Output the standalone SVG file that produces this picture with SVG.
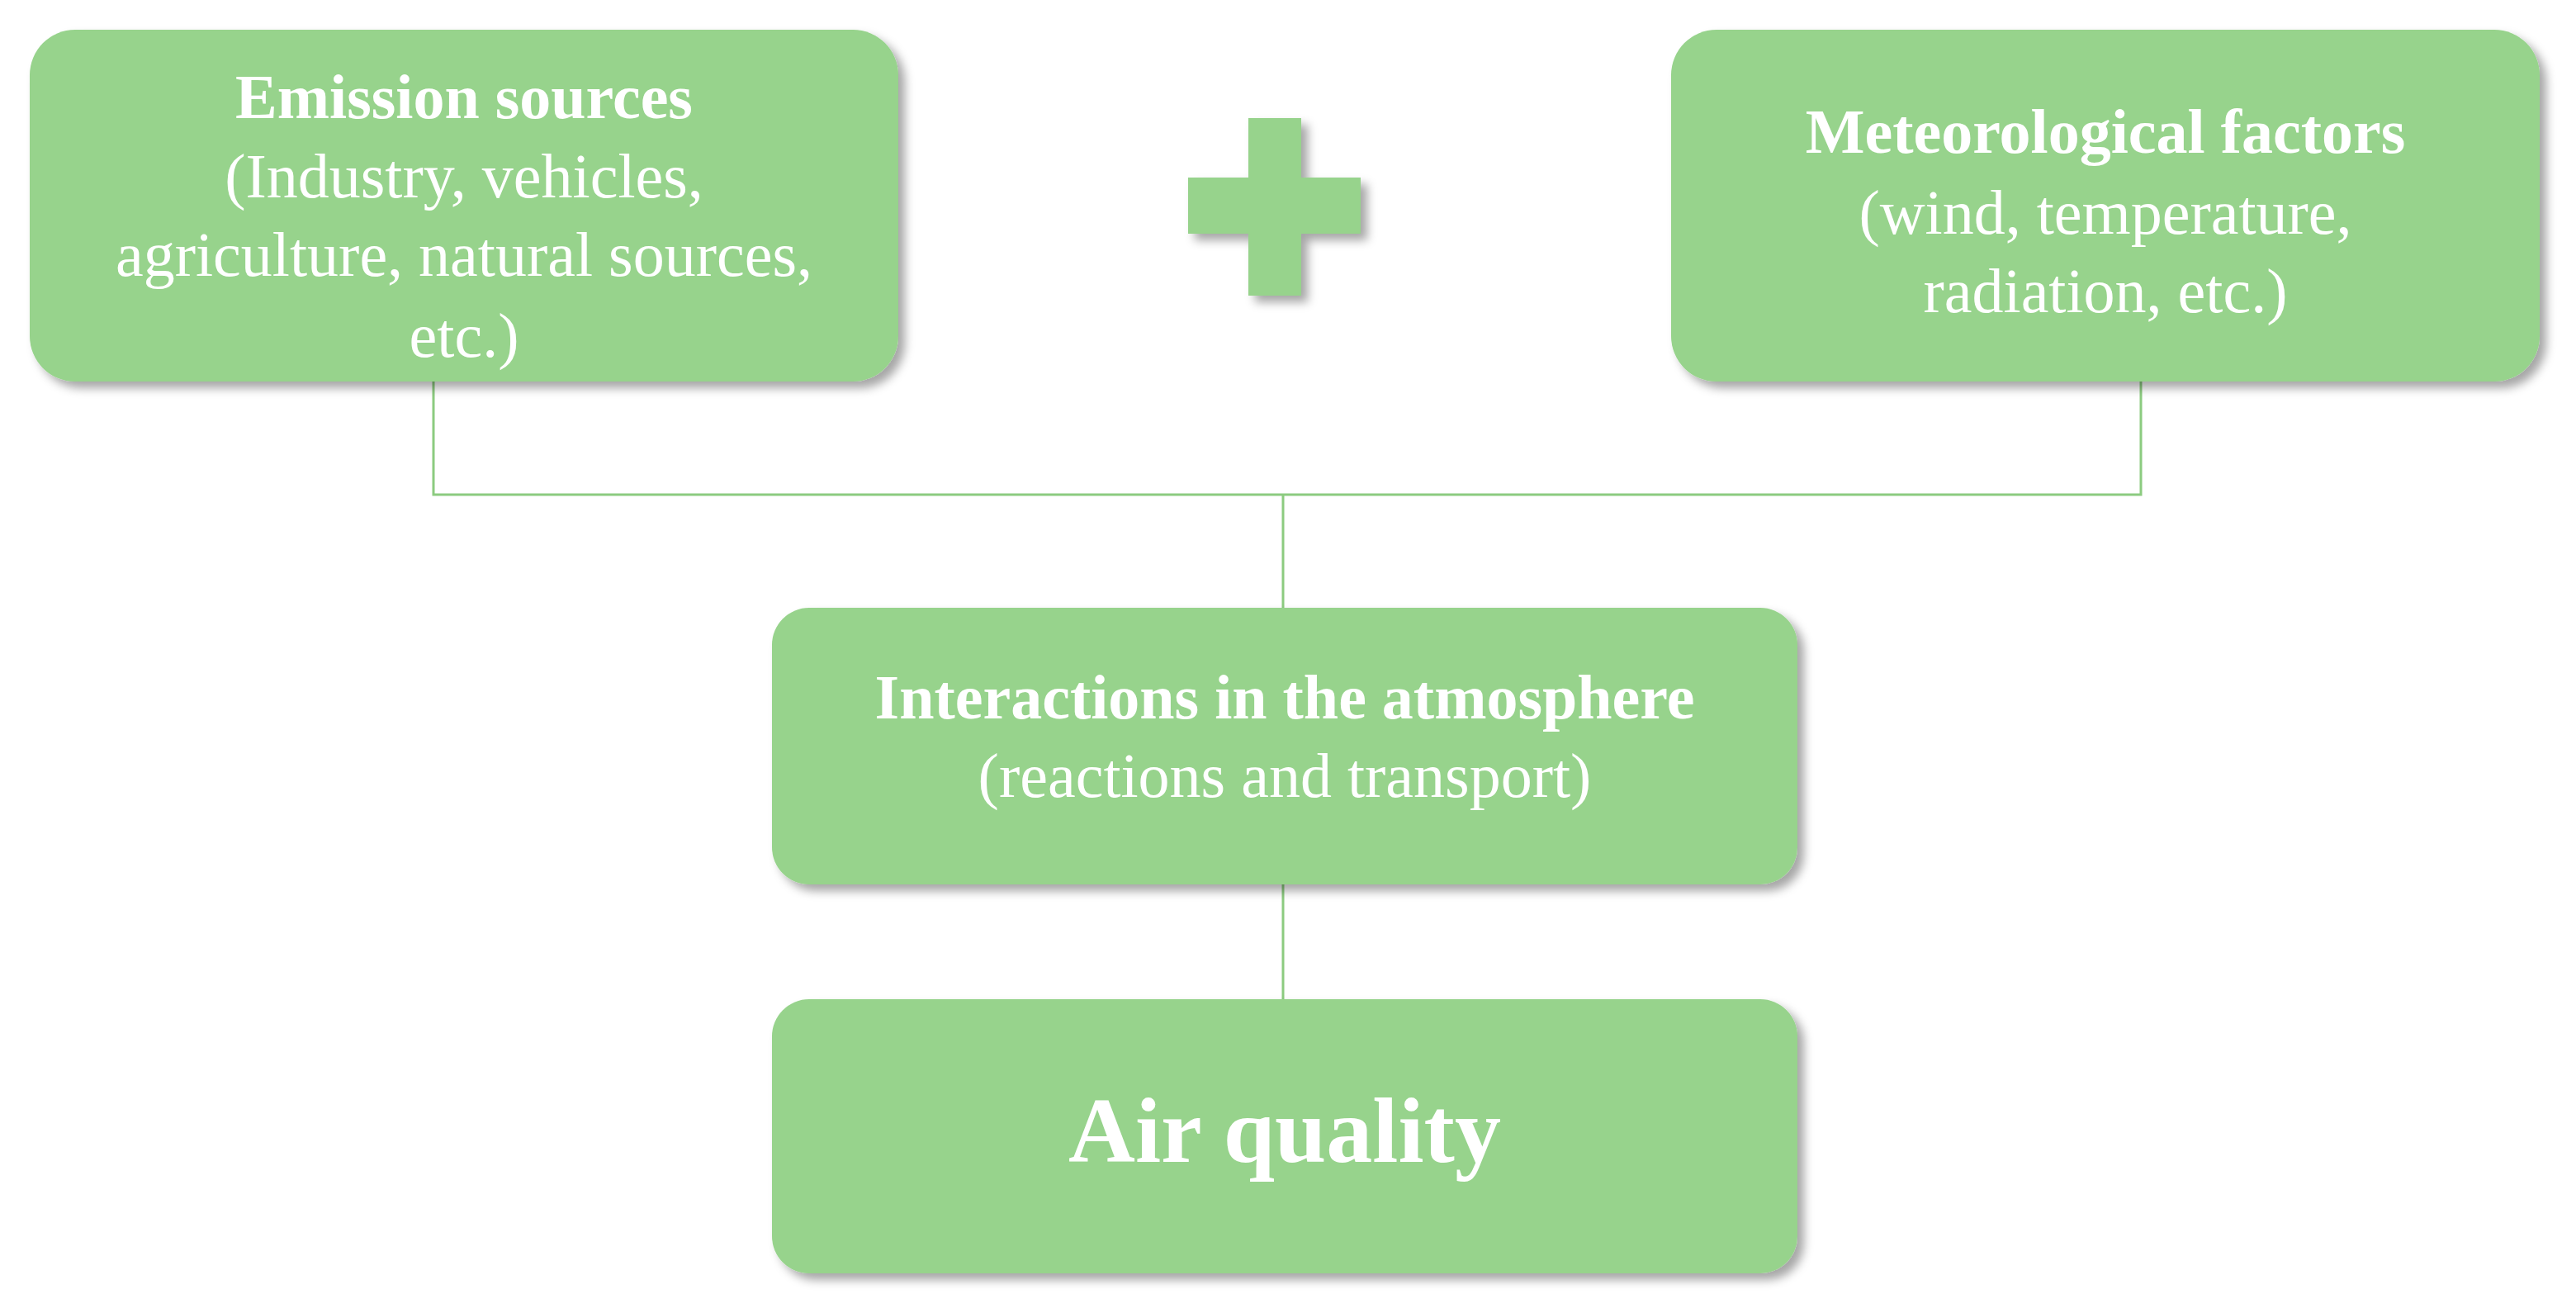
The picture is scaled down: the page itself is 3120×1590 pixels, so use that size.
<svg xmlns="http://www.w3.org/2000/svg" width="3120" height="1590" viewBox="0 0 3120 1590">
<defs>
<filter id="sh" x="-10%" y="-10%" width="130%" height="130%"><feDropShadow dx="8" dy="8" stdDeviation="6" flood-color="#000" flood-opacity="0.35"/></filter>
<style>
.box{fill:#97D38C;filter:url(#sh)}
.t{font-family:"Liberation Serif",serif;fill:#fff;font-size:76px;text-anchor:middle}
.b{font-weight:bold}
.c{stroke:#8CCB80;stroke-width:3;fill:none}
</style>
</defs>
<rect width="3120" height="1590" fill="#fff"/>
<g id="connectors">
<path class="c" d="M525 462V599H2593V462M1554 599V736M1554 1071V1210"/>
</g>
<g id="emission">
<rect class="box" x="36" y="36" width="1052" height="426" rx="55"/>
<text class="t b" x="562" y="143">Emission sources</text>
<text class="t" x="562" y="239">(Industry, vehicles,</text>
<text class="t" x="562" y="334">agriculture, natural sources,</text>
<text class="t" x="562" y="432">etc.)</text>
</g>
<g id="plus" filter="url(#sh)" fill="#97D38C">
<rect x="1512" y="143" width="64" height="215"/>
<rect x="1439" y="215" width="209" height="68"/>
</g>
<g id="meteo">
<rect class="box" x="2024" y="36" width="1052" height="426" rx="55"/>
<text class="t b" x="2550" y="185">Meteorological factors</text>
<text class="t" x="2550" y="283">(wind, temperature,</text>
<text class="t" x="2550" y="378">radiation, etc.)</text>
</g>
<g id="interactions">
<rect class="box" x="935" y="736" width="1242" height="335" rx="45"/>
<text class="t b" x="1556" y="870">Interactions in the atmosphere</text>
<text class="t" x="1556" y="965">(reactions and transport)</text>
</g>
<g id="airquality">
<rect class="box" x="935" y="1210" width="1242" height="332" rx="45"/>
<text class="t b" x="1556" y="1407" style="font-size:112px">Air quality</text>
</g>
</svg>
